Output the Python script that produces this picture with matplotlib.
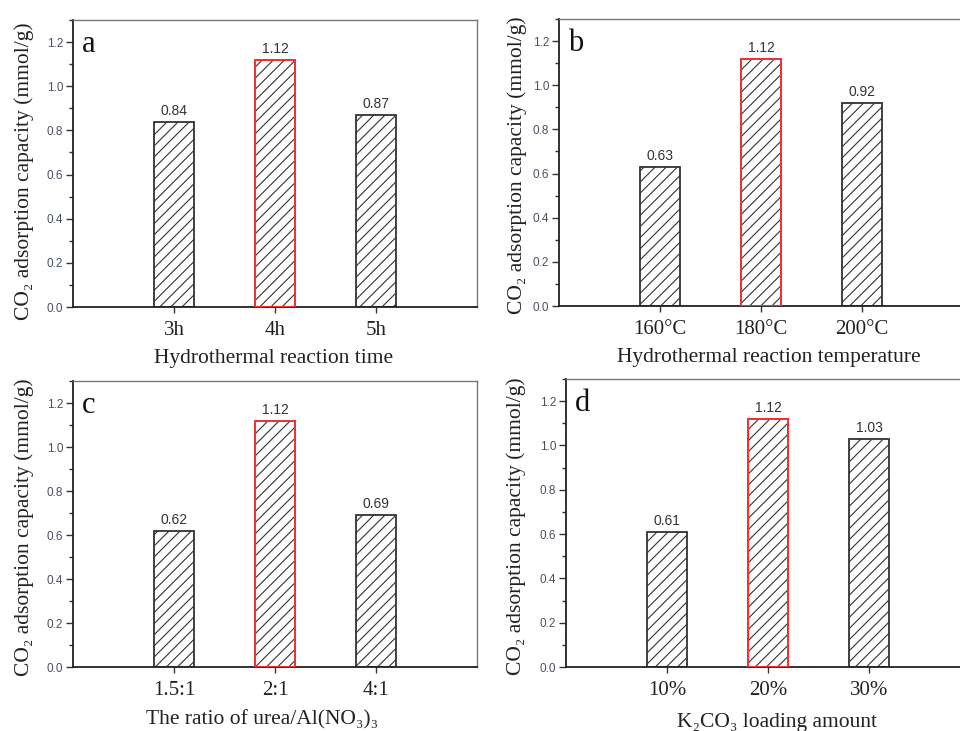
import matplotlib
matplotlib.use('Agg')
import matplotlib.pyplot as plt
from matplotlib.ticker import MultipleLocator

plt.rcParams['hatch.linewidth'] = 0.8

# ---- data ----
cats_a = ['3h', '4h', '5h']
vals_a = [0.84, 1.12, 0.87]
cats_b = ['160°C', '180°C', '200°C']
vals_b = [0.63, 1.12, 0.92]
cats_c = ['1.5:1', '2:1', '4:1']
vals_c = [0.62, 1.12, 0.69]
cats_d = ['10%', '20%', '30%']
vals_d = [0.61, 1.12, 1.03]
highlight_index = 1
panel_letters = ['a', 'b', 'c', 'd']
xlabels = ['Hydrothermal reaction time',
           'Hydrothermal reaction temperature',
           'The ratio of urea/Al(NO₃)₃',
           'K₂CO₃ loading amount']
ylabel_text = 'CO₂ adsorption capacity (mmol/g)'

SERIF = ['Liberation Serif', 'DejaVu Serif']
SANS = ['Liberation Sans', 'DejaVu Sans']

W, H = 960, 731
fig = plt.figure(figsize=(W / 100, H / 100), dpi=100)

# pixel boxes: left, right, top, bottom
boxes = [(73, 477, 20, 307), (559, 963, 19, 306), (73, 477, 381, 667), (566, 970, 379, 667)]
# label centers in pixels
xlab_pos = [(274, 359), (769, 357), (262, 720), (777, 722)]
ylab_pos = [(24, 171), (517, 165), (24, 527), (516, 526)]

datasets = [(cats_a, vals_a), (cats_b, vals_b), (cats_c, vals_c), (cats_d, vals_d)]

for i, ((cats, vals), (l, r, t, b)) in enumerate(zip(datasets, boxes)):
    ax = fig.add_axes([l / W, 1 - b / H, (r - l) / W, (b - t) / H])
    x = list(range(1, len(cats) + 1))
    ax.bar(x, vals, width=0.4, color='white', edgecolor='#333333', hatch='///',
           linewidth=1.3, zorder=2)
    ax.bar([x[highlight_index]], [vals[highlight_index]], width=0.4, fill=False,
           edgecolor='#ff3333', linewidth=1.3, zorder=3)
    for xi, v in zip(x, vals):
        ax.text(xi, v + 0.018, f'{v:.2f}', ha='center', va='bottom', fontsize=10,
                family=SANS, color='#333333')
    ax.set_xlim(0, 4)
    ax.set_ylim(0, 1.3)
    ax.set_xticks(x)
    ax.set_xticklabels(cats, family=SERIF, fontsize=15, color='#222222')
    ax.yaxis.set_major_locator(MultipleLocator(0.2))
    ax.yaxis.set_minor_locator(MultipleLocator(0.1))
    ax.yaxis.set_major_formatter(matplotlib.ticker.FormatStrFormatter('%.1f'))
    for lab in ax.get_yticklabels():
        lab.set_family(SANS)
        lab.set_fontsize(8.5)
        lab.set_color('#4a5060')
    ax.tick_params(axis='y', which='major', direction='out', length=5, width=1.0,
                   color='#333333', pad=2)
    ax.tick_params(axis='y', which='minor', direction='out', length=3, width=1.0,
                   color='#333333')
    ax.tick_params(axis='x', which='major', direction='out', length=4, width=1.0,
                   color='#333333', pad=6)
    for s in ['left', 'bottom']:
        ax.spines[s].set_color('#222222')
        ax.spines[s].set_linewidth(1.3)
    for s in ['top', 'right']:
        ax.spines[s].set_color('#777777')
        ax.spines[s].set_linewidth(1.0)
    ax.text(0.022, 0.915, panel_letters[i], transform=ax.transAxes, family=SERIF,
            fontsize=22, ha='left', va='center', color='#111111')
    # labels
    xc, yc = xlab_pos[i]
    ax.set_xlabel(xlabels[i], family=SERIF, fontsize=15.5, color='#222222', va='center')
    ax.xaxis.set_label_coords((xc - l) / (r - l), (b - yc) / (b - t))
    yx, yy = ylab_pos[i]
    ax.set_ylabel(ylabel_text, family=SERIF, fontsize=15.5, color='#222222', va='center')
    ax.yaxis.set_label_coords((yx - l) / (r - l), (b - yy) / (b - t))

fig.savefig('out.png', dpi=100)
